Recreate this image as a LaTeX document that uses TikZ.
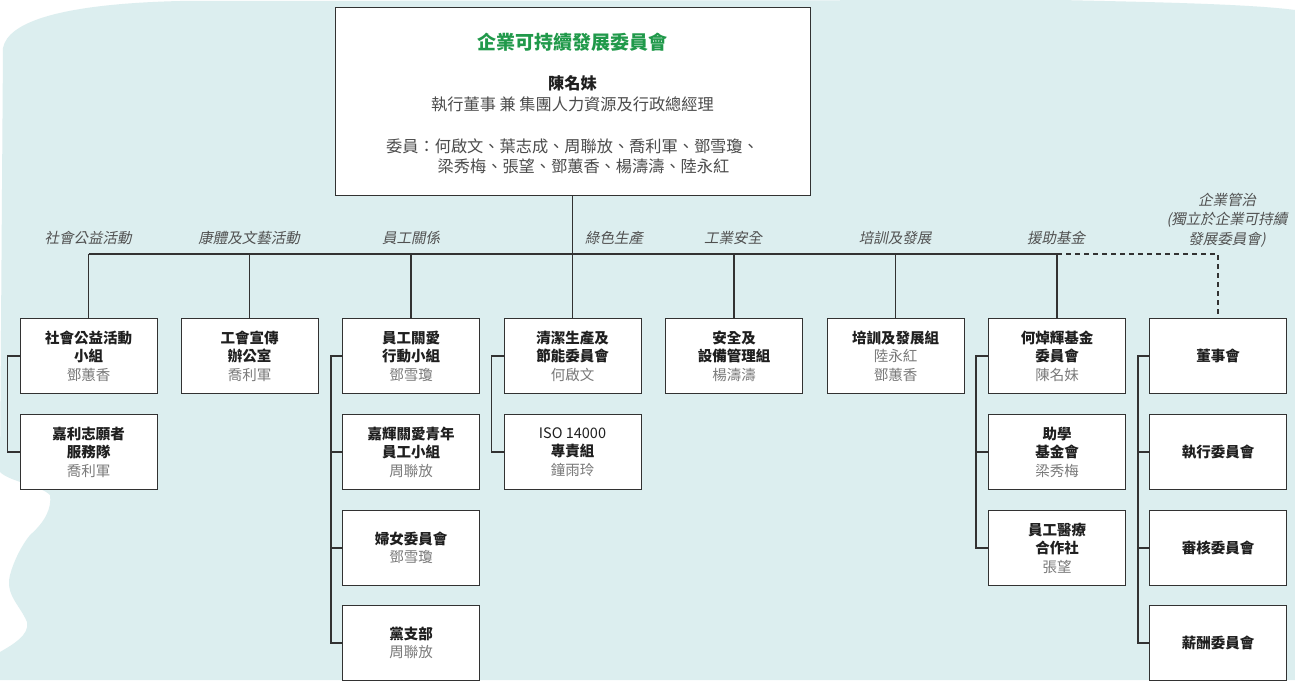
\documentclass[tikz,border=0pt]{standalone}
\usepackage{fontspec}
\setmainfont{Noto Sans CJK TC}
\newfontfamily\slantcjk[FakeSlant=0.2]{Noto Sans CJK TC}

\definecolor{wash}{RGB}{220,238,239}
\definecolor{csrgreen}{RGB}{32,153,74}
\definecolor{inkline}{RGB}{50,50,50}
\definecolor{namegray}{RGB}{122,122,122}
\definecolor{tagtext}{RGB}{80,80,80}
\newcommand{\who}[1]{{\mdseries\color{namegray}#1}}

\begin{document}
\begin{tikzpicture}[x=1pt, y=-1pt,
    unit/.style={draw=inkline, line width=1pt, fill=white, minimum width=137pt,
      minimum height=75pt, inner sep=0pt, align=center, text=black!88,
      font=\fontsize{14.5}{18.5}\selectfont\bfseries},
    tag/.style={align=center, text=tagtext, font=\fontsize{14.5}{19.5}\selectfont\slantcjk},
    link/.style={draw=inkline, line width=1.3pt}]
    \useasboundingbox (0,0) rectangle (1295,680);
    % watercolour wash
    \fill[white] (0,0) rectangle (1295,680);
    \fill[wash] (3,48) .. controls (8,22) and (60,4) .. (180,1) -- (1060,0)
      .. controls (1150,2) and (1250,4) .. (1295,10) -- (1295,680) -- (0,680) -- (0,652)
      .. controls (12,645) and (30,635) .. (27,622) .. controls (20,605) and (5,595) .. (10,575)
      .. controls (14,560) and (22,545) .. (30,535) .. controls (45,522) and (52,508) .. (50,495)
      .. controls (40,485) and (10,482) .. (0,472) -- cycle;

    % committee
    \node (csr) [draw=inkline, line width=1pt, fill=white, minimum width=475pt, minimum height=188pt,
      align=center, text=black!70, font=\fontsize{16.2}{20.5}\selectfont] at (572.5,101.5)
      {\rule{0pt}{21pt}{\color{csrgreen}\fontsize{19}{20.5}\selectfont\bfseries 企業可持續發展委員會}\\[19.5pt]
       {\bfseries\color{black!88}陳名妹}\\
       執行董事 兼 集團人力資源及行政總經理\\[21.5pt]
       委員：何啟文、葉志成、周聯放、喬利軍、鄧雪瓊、\\
       \hspace{22pt}梁秀梅、張望、鄧蕙香、楊濤濤、陸永紅};
    \coordinate (bus) at (572.5,254);

    % headings
    \node (t1) [tag] at (88,238) {社會公益活動};
    \node (t2) [tag] at (249,238) {康體及文藝活動};
    \node (t3) [tag] at (411,238) {員工關係};
    \node (t4) [tag] at (614,238) {綠色生產};
    \node (t5) [tag] at (733,238) {工業安全};
    \node (t6) [tag] at (895,238) {培訓及發展};
    \node (t7) [tag] at (1056,238) {援助基金};
    \node (t8) [tag] at (1227,220) {企業管治\\(獨立於企業可持續\\發展委員會)};

    % groups
    \node (g1)  [unit] at (88.5,356) {社會公益活動\\小組\\\who{鄧蕙香}};
    \node (g1b) [unit] at (88.5,452) {嘉利志願者\\服務隊\\\who{喬利軍}};
    \node (g2)  [unit] at (249.5,356) {工會宣傳\\辦公室\\\who{喬利軍}};
    \node (g3)  [unit] at (411,356) {員工關愛\\行動小組\\\who{鄧雪瓊}};
    \node (g3b) [unit] at (411,452) {嘉輝關愛青年\\員工小組\\\who{周聯放}};
    \node (g3c) [unit] at (411,548) {婦女委員會\\\who{鄧雪瓊}};
    \node (g3d) [unit] at (411,643) {黨支部\\\who{周聯放}};
    \node (g4)  [unit] at (572.5,356) {清潔生產及\\節能委員會\\\who{何啟文}};
    \node (g4b) [unit] at (572.5,452) {{\mdseries ISO 14000}\\專責組\\\who{鐘雨玲}};
    \node (g5)  [unit] at (734,356) {安全及\\設備管理組\\\who{楊濤濤}};
    \node (g6)  [unit] at (895.5,356) {培訓及發展組\\\who{陸永紅}\\\who{鄧蕙香}};
    \node (g7)  [unit] at (1057,356) {何焯輝基金\\委員會\\\who{陳名妹}};
    \node (g7b) [unit] at (1057,452) {助學\\基金會\\\who{梁秀梅}};
    \node (g7c) [unit] at (1057,548) {員工醫療\\合作社\\\who{張望}};
    \node (g8)  [unit] at (1218,356) {董事會};
    \node (g8b) [unit] at (1218,452) {執行委員會};
    \node (g8c) [unit] at (1218,548) {審核委員會};
    \node (g8d) [unit] at (1218,643) {薪酬委員會};

    % tree
    \draw[link] (csr.south) -- (bus);
    \draw[link] (g1.north |- bus) -- (g7.north |- bus);
    \foreach \g in {g1,g2,g3,g4,g5,g6,g7}
      \draw[link] (\g.north |- bus) -- (\g.north);
    \draw[link, dash pattern=on 5pt off 4pt] (g7.north |- bus) -- (g8.north |- bus) -- (g8.north);

    % side brackets
    \draw[link] (g1.west) -- ++(-12,0) |- (g1b.west);
    \draw[link] (g3.west) -- ++(-11,0) |- (g3d.west);
    \foreach \g in {g3b,g3c}
      \draw[link] (\g.west) -- ++(-11,0);
    \draw[link] (g4.west) -- ++(-12,0) |- (g4b.west);
    \draw[link] (g7.west) -- ++(-12,0) |- (g7c.west);
    \draw[link] (g7b.west) -- ++(-12,0);
    \draw[link] (g8.west) -- ++(-11,0) |- (g8d.west);
    \foreach \g in {g8b,g8c}
      \draw[link] (\g.west) -- ++(-11,0);
\end{tikzpicture}
\end{document}
